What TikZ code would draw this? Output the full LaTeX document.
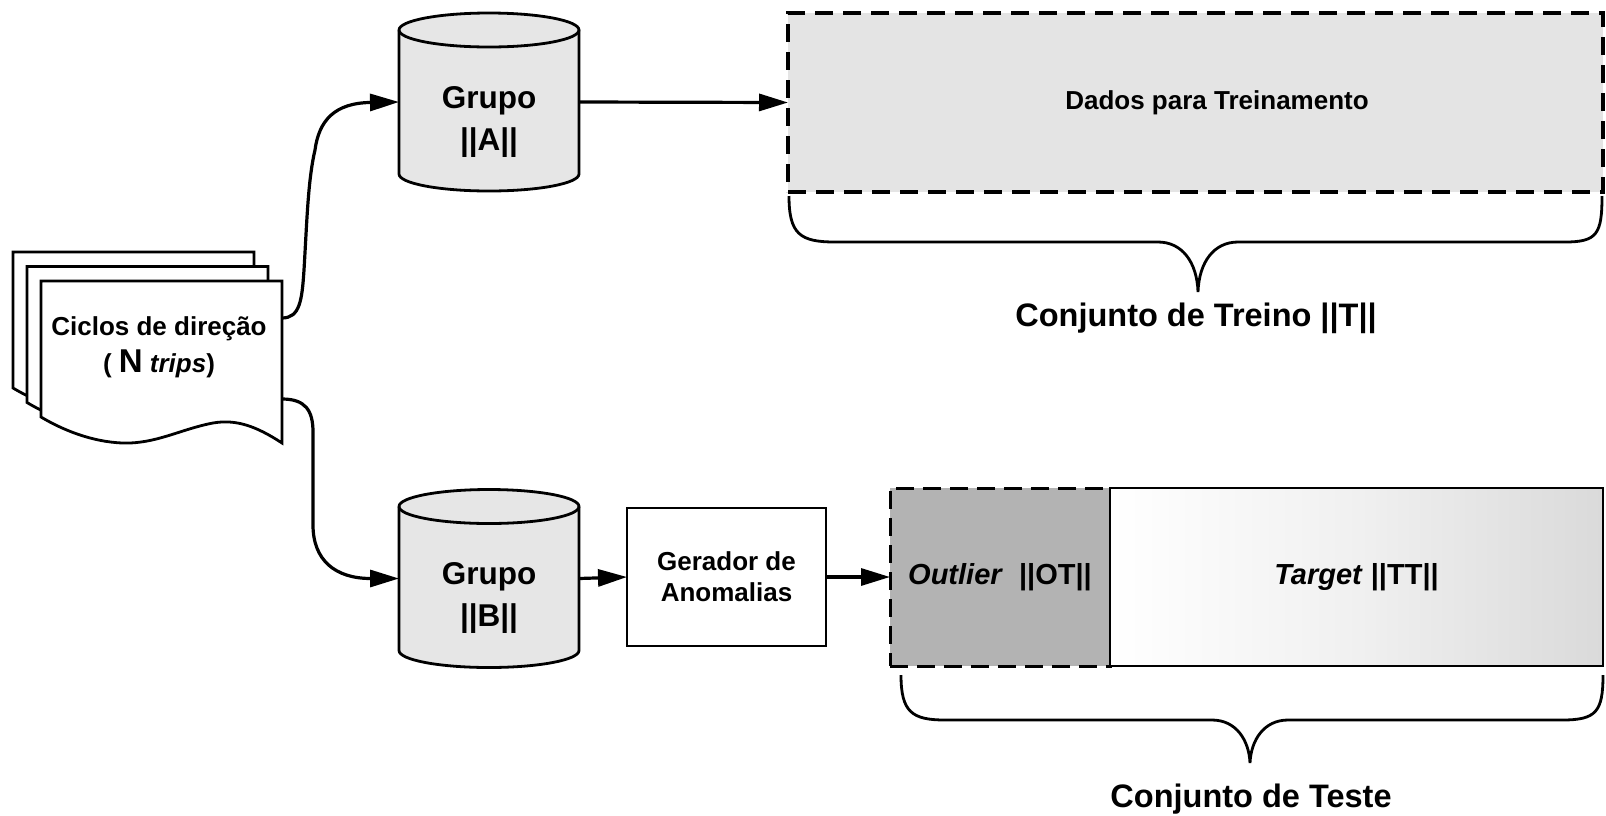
\documentclass[tikz,border=0pt]{standalone}
\usepackage{fontspec}
\setmainfont{Liberation Sans}
\usetikzlibrary{arrows.meta,calc}

\definecolor{cylfill}{RGB}{230,230,230}
\definecolor{trainfill}{RGB}{228,228,228}
\definecolor{outfill}{RGB}{179,179,179}
\definecolor{tgtgray}{RGB}{218,218,218}

\tikzset{
  lw/.style={line width=2.8pt},
  conn/.style={line width=3.2pt,-{Triangle[length=29pt,width=17pt]}},
  brace/.style={line width=2.8pt},
  cyltext/.style={font=\fontsize{31.5}{42}\selectfont\bfseries,align=center},
  boxtext/.style={font=\fontsize{26}{31}\selectfont\bfseries,align=center},
  bigtext/.style={font=\fontsize{32.5}{38}\selectfont\bfseries},
  anchorbox/.style={inner sep=0pt,outer sep=0pt},
  % database cylinder, 180 wide and 178 high, centred on the pic origin
  dbcyl/.pic={
    \path[fill=cylfill,draw=black,lw]
      (-90,-72) -- (-90,72)
      arc[start angle=180,end angle=0,x radius=90,y radius=17]
      -- (90,-72)
      arc[start angle=0,end angle=-180,x radius=90,y radius=17] -- cycle;
    \draw[lw] (-90,-72) arc[start angle=180,end angle=0,x radius=90,y radius=17];
  },
  % one sheet of the document stack, origin at its top-left corner
  docpage/.pic={
    \path[fill=white,draw=black,lw,line join=miter]
      (0,0) -- (241,0) -- (241,162)
      .. controls (215,145) and (195,138) .. (172,142)
      .. controls (140,148) and (115,163) .. (82,162)
      .. controls (50,161) and (20,148) .. (0,136) -- cycle;
  }
}

\begin{document}
\begin{tikzpicture}[x=1pt,y=-1pt]
\useasboundingbox (0,0) rectangle (1606,815);

% document stack
\pic at (13,252) {docpage};
\pic at (27,266.5) {docpage};
\pic at (41,281) {docpage};
\node[anchorbox,minimum width=241pt,minimum height=162pt,anchor=north west] (doc) at (41,281) {};
\node[boxtext,font=\fontsize{26}{37}\selectfont\bfseries] (doclbl) at (159,347)
  {Ciclos de direção\\( {\fontsize{33}{37}\selectfont N} \textit{trips})};

% databases
\pic at (489,102) {dbcyl};
\node[anchorbox,minimum width=180pt,minimum height=178pt,
  label={[cyltext,yshift=-20pt]center:Grupo\\||A||}] (cylA) at (489,102) {};
\pic at (489,578.5) {dbcyl};
\node[anchorbox,minimum width=180pt,minimum height=178pt,
  label={[cyltext,yshift=-19pt]center:Grupo\\||B||}] (cylB) at (489,578.5) {};

% training data
\node[anchorbox,fill=trainfill,draw=black,line width=4.5pt,dash pattern=on 18pt off 10pt,
  minimum width=815pt,minimum height=179pt,
  label={[boxtext,xshift=21.5pt]center:Dados para Treinamento}] (train) at (1195.5,102.5) {};

% anomaly generator
\node[anchorbox,draw=black,lw,fill=white,minimum width=199pt,minimum height=138pt,boxtext]
  (gen) at (726.5,577) {Gerador de\\Anomalias};

% test set: outliers and targets
\node[anchorbox,fill=outfill,draw=black,line width=3pt,dash pattern=on 18pt off 9pt,
  minimum width=220pt,minimum height=178pt,
  font=\fontsize{29}{34}\selectfont\bfseries] (outl) at (1000,577) {\textit{Outlier}~~||OT||};
\shade[left color=white,right color=tgtgray,middle color=white!60!tgtgray]
  (1110,488) rectangle (1603,666);
\node[anchorbox,draw=black,lw,
  minimum width=493pt,minimum height=178pt,
  font=\fontsize{29}{34}\selectfont\bfseries] (tgt) at (1356.5,577) {\textit{Target} ||TT||};

% connectors
\draw[conn] ($(doc.east)+(0,-44)$)
  .. controls (300,318) and (302,300) .. (304,270)
  .. controls (307,220) and (308,180) .. (315,150)
  .. controls (319,120) and (335,103) .. (cylA.west);
\draw[conn] ($(doc.east)+(0,37)$)
  .. controls (305,399) and (313,410) .. (313,432)
  -- (313,525)
  .. controls (313,560) and (335,578.5) .. (cylB.west);
\draw[conn] (cylA.east) -- (train.west);
\draw[conn] (cylB.east) -- (gen.west);
\draw[conn] (gen.east) -- (gen.east -| outl.west);

% braces and set names
\draw[brace] (789,196) .. controls (789,234) and (800,242) .. (835,242)
  -- (1158,242) .. controls (1182,242) and (1197,262) .. (1198,292)
  .. controls (1199,262) and (1214,242) .. (1238,242)
  -- (1565,242) .. controls (1597,242) and (1602,234) .. (1602,196);
\node[bigtext] (treino) at (1196,318) {Conjunto de Treino ||T||};

\draw[brace] (901,675) .. controls (901,712) and (912,720) .. (945,720)
  -- (1212,720) .. controls (1236,720) and (1249,740) .. (1250,763)
  .. controls (1251,740) and (1264,720) .. (1288,720)
  -- (1562,720) .. controls (1596,720) and (1603,712) .. (1603,675);
\node[bigtext] (teste) at (1251,799) {Conjunto de Teste};
\end{tikzpicture}
\end{document}
